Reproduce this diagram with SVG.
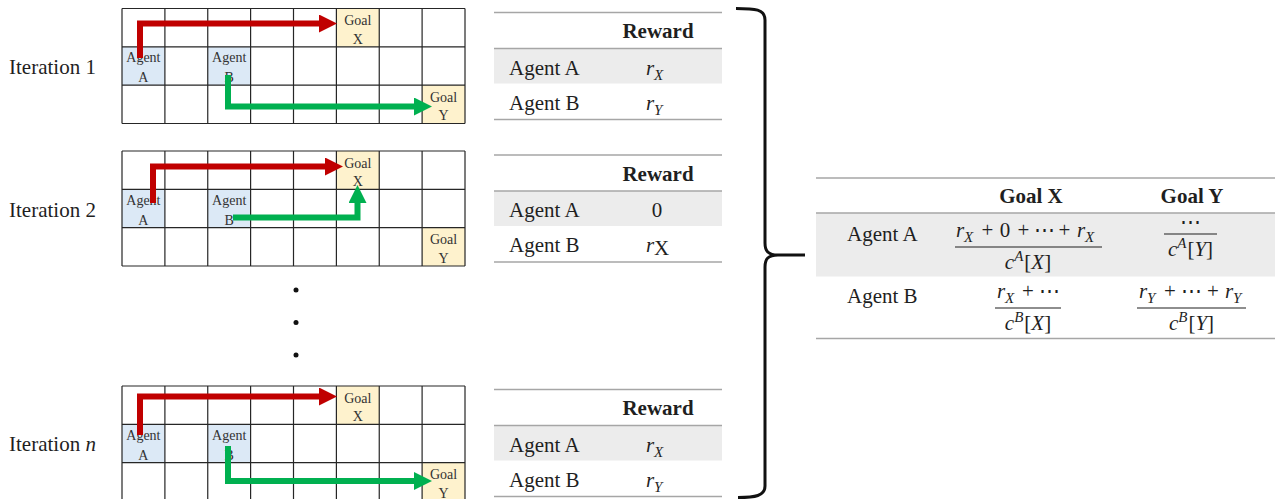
<svg xmlns="http://www.w3.org/2000/svg" width="1275" height="499" viewBox="0 0 1275 499">
<defs>
<style>
text{font-family:"Liberation Serif","Times New Roman","DejaVu Serif",serif;fill:#1f1f1f}
.lbl{font-size:21px}
.cell{font-size:14px;fill:#333;text-anchor:middle}
.hdr{font-size:21px;font-weight:bold;text-anchor:middle}
.row{font-size:21px}
.mi{font-size:21px;font-style:italic}
.mo{font-size:21px;text-anchor:middle}
.sm{font-size:15px;font-style:italic}
.up{font-style:normal}
.gl{stroke:#262626;stroke-width:1.2;fill:none}
.rule{stroke:#a6a6a6;stroke-width:1.5}
.shade{fill:#ececec}
.frac{stroke:#1f1f1f;stroke-width:1.2}
.agent{fill:#dce9f6}
.goal{fill:#fef2cd}
.red{stroke:#c00000;stroke-width:6;fill:none}
.green{stroke:#00b050;stroke-width:6;fill:none}
.dot{fill:#111}
</style>
<marker id="head-red" markerUnits="userSpaceOnUse" viewBox="0 0 18 18" markerWidth="18" markerHeight="18" refX="1" refY="9" orient="auto">
  <path d="M0,0 L18,9 L0,18 z" fill="#c00000"/>
</marker>
<marker id="head-green" markerUnits="userSpaceOnUse" viewBox="0 0 18 18" markerWidth="18" markerHeight="18" refX="1" refY="9" orient="auto">
  <path d="M0,0 L18,9 L0,18 z" fill="#00b050"/>
</marker>
<!-- 8 x 3 grid world with the two agents and the two goals -->
<g id="grid">
  <rect class="agent" x="122" y="38.3" width="42.9" height="38.4"/>
  <rect class="agent" x="207.75" y="38.3" width="42.9" height="38.4"/>
  <rect class="goal" x="336.4" y="0" width="42.9" height="38.3"/>
  <rect class="goal" x="422.1" y="76.7" width="42.9" height="38.3"/>
  <path class="gl" d="M122,0H465 M122,38.3H465 M122,76.7H465 M122,115H465 M122,0V115 M164.9,0V115 M207.75,0V115 M250.6,0V115 M293.5,0V115 M336.4,0V115 M379.25,0V115 M422.1,0V115 M465,0V115"/>
  <text class="cell" x="357.8" y="16.5">Goal</text>
  <text class="cell" x="357.8" y="35">X</text>
  <text class="cell" x="143.4" y="53.8">Agent</text>
  <text class="cell" x="143.4" y="73.5">A</text>
  <text class="cell" x="229.2" y="53.8">Agent</text>
  <text class="cell" x="229.2" y="73.5">B</text>
  <text class="cell" x="443.6" y="93.2">Goal</text>
  <text class="cell" x="443.6" y="111.8">Y</text>
</g>
</defs>

<rect width="1275" height="499" fill="#fff"/>

<g id="iteration-1">
  <text class="lbl" x="9" y="74">Iteration 1</text>
  <use href="#grid" y="8.5"/>
</g>
<g id="iteration-2">
  <text class="lbl" x="9" y="217">Iteration 2</text>
  <use href="#grid" y="151"/>
</g>
<g id="iteration-n">
  <text class="lbl" x="9" y="451">Iteration <tspan font-style="italic">n</tspan></text>
  <use href="#grid" y="386"/>
</g>

<g id="ellipsis">
  <circle class="dot" cx="296" cy="290" r="2.5"/>
  <circle class="dot" cx="296" cy="322.5" r="2.5"/>
  <circle class="dot" cx="296" cy="355" r="2.5"/>
</g>

<!-- agent paths -->
<g id="connectors">
  <path class="red" d="M140,58 V23.5 H320" marker-end="url(#head-red)"/>
  <path class="green" d="M228,75 V106.5 H415" marker-end="url(#head-green)"/>
  <path class="red" d="M153,203 V166.5 H326" marker-end="url(#head-red)"/>
  <path class="green" d="M233,217.5 H357.5 V202" marker-end="url(#head-green)"/>
  <path class="red" d="M140,435 V396.5 H320" marker-end="url(#head-red)"/>
  <path class="green" d="M228,446 V481 H415" marker-end="url(#head-green)"/>
</g>

<!-- per-iteration reward tables -->
<g id="reward-1" transform="translate(0,12.5)">
  <rect class="shade" x="494" y="36" width="228" height="35"/>
  <path class="rule" d="M494,0H722 M494,36H722 M494,107H722"/>
  <text class="hdr" x="658" y="25.5">Reward</text>
  <text class="row" x="509" y="62">Agent A</text>
  <text class="row" x="509" y="97">Agent B</text>
  <text class="mi" x="646" y="62">r</text><text class="sm" x="654" y="67">X</text>
  <text class="mi" x="646" y="97">r</text><text class="sm" x="654" y="102">Y</text>
</g>
<g id="reward-2" transform="translate(0,155)">
  <rect class="shade" x="494" y="36" width="228" height="35"/>
  <path class="rule" d="M494,0H722 M494,36H722 M494,107H722"/>
  <text class="hdr" x="658" y="25.5">Reward</text>
  <text class="row" x="509" y="62">Agent A</text>
  <text class="row" x="509" y="97">Agent B</text>
  <text class="mo" x="657" y="62">0</text>
  <text class="mi" x="646" y="97">r</text><text class="row" x="654" y="100" font-size="16">X</text>
</g>
<g id="reward-n" transform="translate(0,389.5)">
  <rect class="shade" x="494" y="36" width="228" height="35"/>
  <path class="rule" d="M494,0H722 M494,36H722 M494,107H722"/>
  <text class="hdr" x="658" y="25.5">Reward</text>
  <text class="row" x="509" y="62">Agent A</text>
  <text class="row" x="509" y="97">Agent B</text>
  <text class="mi" x="646" y="62">r</text><text class="sm" x="654" y="67">X</text>
  <text class="mi" x="646" y="97">r</text><text class="sm" x="654" y="102">Y</text>
</g>

<!-- curly brace gathering the iterations -->
<g id="brace">
  <path d="M736,8.5 C755,8.5 765,9 765,20 V243 C765,251 768,255 778,255 H805 M778,255 C768,255 765,259 765,267 V486 C765,496 755,497.5 738,497.5" fill="none" stroke="#111" stroke-width="3"/>
</g>

<!-- aggregated average rewards -->
<g id="average-table">
  <rect class="shade" x="816" y="213" width="459" height="63.5"/>
  <path class="rule" d="M816,178H1275 M816,213H1275 M816,338.5H1275"/>
  <text class="hdr" x="1031" y="203">Goal X</text>
  <text class="hdr" x="1192" y="203">Goal Y</text>
  <text class="row" x="847" y="241">Agent A</text>
  <text class="row" x="847" y="303">Agent B</text>

  <!-- A, X -->
  <text class="mi" x="956" y="237">r</text><text class="sm" x="964" y="242">X</text>
  <text class="mo" x="987.5" y="237">+</text>
  <text class="mo" x="1005" y="237">0</text>
  <text class="mo" x="1023.5" y="237">+</text>
  <text class="mo" x="1044" y="237">⋯</text>
  <text class="mo" x="1064.5" y="237">+</text>
  <text class="mi" x="1077" y="237">r</text><text class="sm" x="1085" y="242">X</text>
  <line class="frac" x1="955" y1="247" x2="1102" y2="247"/>
  <text class="mi" x="1028" y="269" text-anchor="middle">c<tspan class="sm" dy="-8">A</tspan><tspan class="up" dy="8" dx="1">[</tspan>X<tspan class="up">]</tspan></text>

  <!-- A, Y -->
  <text class="mo" x="1190" y="229">⋯</text>
  <line class="frac" x1="1164" y1="234" x2="1217" y2="234"/>
  <text class="mi" x="1190.5" y="256" text-anchor="middle">c<tspan class="sm" dy="-8">A</tspan><tspan class="up" dy="8" dx="1">[</tspan>Y<tspan class="up">]</tspan></text>

  <!-- B, X -->
  <text class="mi" x="997" y="298">r</text><text class="sm" x="1005" y="303">X</text>
  <text class="mo" x="1028" y="298">+</text>
  <text class="mo" x="1049.5" y="298">⋯</text>
  <line class="frac" x1="995" y1="308" x2="1061" y2="308"/>
  <text class="mi" x="1028" y="330" text-anchor="middle">c<tspan class="sm" dy="-8">B</tspan><tspan class="up" dy="8" dx="1">[</tspan>X<tspan class="up">]</tspan></text>

  <!-- B, Y -->
  <text class="mi" x="1139" y="298">r</text><text class="sm" x="1147" y="303">Y</text>
  <text class="mo" x="1170" y="298">+</text>
  <text class="mo" x="1191.5" y="298">⋯</text>
  <text class="mo" x="1213" y="298">+</text>
  <text class="mi" x="1225" y="298">r</text><text class="sm" x="1233" y="303">Y</text>
  <line class="frac" x1="1137" y1="308" x2="1246" y2="308"/>
  <text class="mi" x="1191.5" y="330" text-anchor="middle">c<tspan class="sm" dy="-8">B</tspan><tspan class="up" dy="8" dx="1">[</tspan>Y<tspan class="up">]</tspan></text>
</g>
</svg>
